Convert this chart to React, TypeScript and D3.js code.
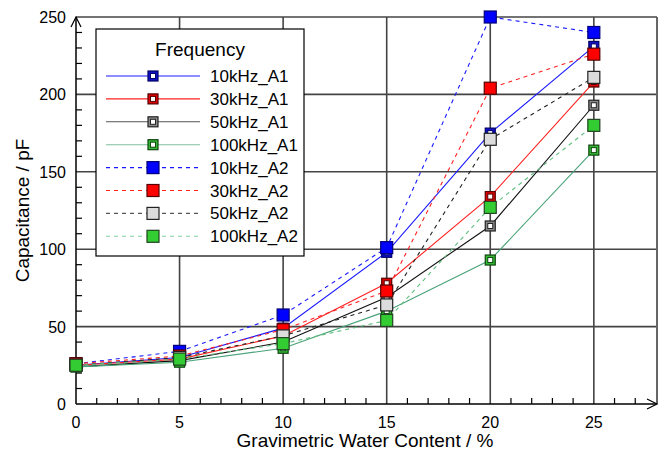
import React from "react";
import * as d3 from "d3";

const xValues = [0, 5, 10, 15, 20, 25];
const seriesNames = ["10kHz_A1", "30kHz_A1", "50kHz_A1", "100kHz_A1", "10kHz_A2", "30kHz_A2", "50kHz_A2", "100kHz_A2"];
const s10A1 = [25, 30, 49, 98, 175, 231];
const s30A1 = [25, 29, 44, 78, 134, 208];
const s50A1 = [24, 28, 40, 69, 115, 193];
const s100A1 = [24, 27, 36, 60, 93, 164];
const s10A2 = [26, 34, 57.5, 101, 250, 240];
const s30A2 = [26, 31, 48, 73, 204, 226];
const s50A2 = [25, 30, 44, 64, 171, 211];
const s100A2 = [25, 29, 39, 54, 127, 180];
const xTicks = [0, 5, 10, 15, 20, 25];
const yTicks = [0, 50, 100, 150, 200, 250];

const styles = [
  { line: "#1a1aff", fill: "#1010c8", edge: "#000066", dash: null, a1: true },
  { line: "#ff2020", fill: "#e00000", edge: "#550000", dash: null, a1: true },
  { line: "#111111", fill: "#8a8a8a", edge: "#222222", dash: null, a1: true, legendLine: "#555555" },
  { line: "#4aa37a", fill: "#33bb33", edge: "#114411", dash: null, a1: true, legendLine: "#7fbf9f" },
  { line: "#1a1aff", fill: "#0000ff", edge: "#00007a", dash: "4,4", a1: false },
  { line: "#ff2020", fill: "#ff0000", edge: "#550000", dash: "4,4", a1: false },
  { line: "#222222", fill: "#dcdcdc", edge: "#222222", dash: "4,4", a1: false, legendLine: "#555555" },
  { line: "#5fbf7f", fill: "#33cc33", edge: "#224422", dash: "4,4", a1: false, legendLine: "#7fcfa5" },
];

const allSeries = [s10A1, s30A1, s50A1, s100A1, s10A2, s30A2, s50A2, s100A2];

function Marker({ x, y, st }: { x: number; y: number; st: any }) {
  if (st.a1) {
    const s = 10;
    return (
      <g>
        <rect x={x - s / 2} y={y - s / 2} width={s} height={s} fill={st.fill} stroke={st.edge} strokeWidth={1.2} />
        <rect x={x - 2.5} y={y - 2.5} width={5} height={5} fill="#ffffff" stroke={st.edge} strokeWidth={1} />
      </g>
    );
  }
  const s = 12;
  return <rect x={x - s / 2} y={y - s / 2} width={s} height={s} fill={st.fill} stroke={st.edge} strokeWidth={1.2} />;
}

export default function App() {
  const W = 667, H = 455;
  const left = 76, right = 657, top = 17, bottom = 404;
  const x = d3.scaleLinear().domain([0, 28.05]).range([left, right]);
  const y = d3.scaleLinear().domain([0, 250]).range([bottom, top]);
  const line = d3.line<number>().x((_, i) => x(xValues[i])).y((d) => y(d));
  const font = "'Liberation Sans', Arial, sans-serif";
  const minorX = d3.range(0, 28, 1).filter((v) => v % 5 !== 0);
  const minorY = d3.range(0, 250, 10).filter((v) => v % 50 !== 0);
  const legX = 96, legY = 29, legW = 208, legH = 227;
  const rowY0 = 76, rowDy = 22.9;

  return (
    <svg width={W} height={H} style={{ position: "absolute", left: 0, top: 0 }} fontFamily={font}>
      <rect x={0} y={0} width={W} height={H} fill="#ffffff" />
      {/* grid */}
      {xTicks.filter((v) => v > 0).map((v) => (
        <line key={"gx" + v} x1={x(v)} x2={x(v)} y1={top} y2={bottom} stroke="#444" strokeWidth={1.6} />
      ))}
      {yTicks.filter((v) => v > 0).map((v) => (
        <line key={"gy" + v} x1={left} x2={right} y1={y(v)} y2={y(v)} stroke="#444" strokeWidth={1.6} />
      ))}
      <line x1={right} x2={right} y1={top} y2={bottom} stroke="#666" strokeWidth={2} />
      {/* minor ticks */}
      {minorX.map((v) => (
        <line key={"mx" + v} x1={x(v)} x2={x(v)} y1={bottom} y2={bottom - 6} stroke="#000" strokeWidth={1.2} />
      ))}
      {minorY.map((v) => (
        <line key={"my" + v} x1={left} x2={left + 6} y1={y(v)} y2={y(v)} stroke="#000" strokeWidth={1.2} />
      ))}
      {/* axes */}
      <line x1={left} x2={left} y1={top} y2={bottom} stroke="#000" strokeWidth={1.5} />
      <line x1={left} x2={right} y1={bottom} y2={bottom} stroke="#000" strokeWidth={1.5} />
      <polyline points={`${left - 5},${top + 10} ${left},${top} ${left + 5},${top + 10}`} fill="none" stroke="#000" strokeWidth={1.2} />
      <polyline points={`${right - 10},${bottom - 5} ${right},${bottom} ${right - 10},${bottom + 5}`} fill="none" stroke="#000" strokeWidth={1.2} />
      {/* tick labels */}
      {xTicks.map((v) => (
        <text key={"tx" + v} x={x(v)} y={428} fontSize={16} textAnchor="middle" fill="#000">{v}</text>
      ))}
      {yTicks.map((v) => (
        <text key={"ty" + v} x={66} y={y(v) + 6} fontSize={16} textAnchor="end" fill="#000">{v}</text>
      ))}
      <text x={365} y={447} fontSize={19} textAnchor="middle" fill="#000">Gravimetric Water Content / %</text>
      <text transform={`translate(29,${(top + bottom) / 2}) rotate(-90)`} fontSize={19} textAnchor="middle" fill="#000">Capacitance / pF</text>
      {/* lines */}
      {allSeries.map((s, i) => (
        <path key={"l" + i} d={line(s) || ""} fill="none" stroke={styles[i].line} strokeWidth={1.1} strokeDasharray={styles[i].dash || undefined} />
      ))}
      {/* markers */}
      {allSeries.map((s, i) => (
        <g key={"m" + i}>
          {s.map((v, j) => (
            <Marker key={j} x={x(xValues[j])} y={y(v)} st={styles[i]} />
          ))}
        </g>
      ))}
      {/* legend */}
      <rect x={legX} y={legY} width={legW} height={legH} fill="#fff" stroke="#000" strokeWidth={1.2} />
      <text x={200} y={56} fontSize={19} textAnchor="middle" fill="#000">Frequency</text>
      {seriesNames.map((name, i) => {
        const ry = rowY0 + i * rowDy;
        const st = styles[i];
        return (
          <g key={"lg" + i}>
            <line x1={106} x2={200} y1={ry} y2={ry} stroke={st.legendLine || st.line} strokeWidth={1.1} strokeDasharray={st.dash || undefined} />
            <Marker x={153} y={ry} st={st} />
            <text x={210} y={ry + 6} fontSize={17} fill="#000">{name}</text>
          </g>
        );
      })}
    </svg>
  );
}
